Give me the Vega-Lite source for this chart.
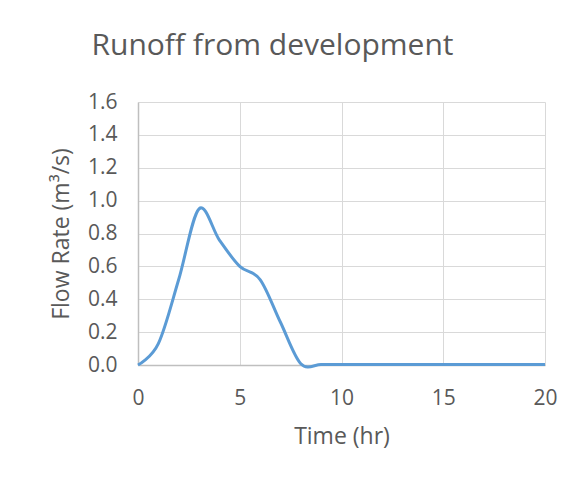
{
  "$schema": "https://vega.github.io/schema/vega-lite/v6.json",
  "autosize": "none",
  "width": 407,
  "height": 263,
  "padding": {"left": 138, "top": 102, "right": 33, "bottom": 115},
  "background": "white",
  "title": {
    "text": "Runoff from development",
    "font": "Open Sans",
    "fontSize": 30,
    "fontWeight": "normal",
    "color": "#595959",
    "anchor": "middle",
    "dx": -69,
    "offset": 30
  },
  "data": {
    "values": [
      {"t": 0, "q": 0.0},
      {"t": 1, "q": 0.13},
      {"t": 2, "q": 0.52},
      {"t": 3, "q": 0.95},
      {"t": 4, "q": 0.76},
      {"t": 5, "q": 0.60},
      {"t": 6, "q": 0.52},
      {"t": 7, "q": 0.26},
      {"t": 8, "q": 0.008},
      {"t": 9, "q": 0.003},
      {"t": 10, "q": 0.003},
      {"t": 11, "q": 0.003},
      {"t": 12, "q": 0.003},
      {"t": 13, "q": 0.003},
      {"t": 14, "q": 0.003},
      {"t": 15, "q": 0.003},
      {"t": 16, "q": 0.003},
      {"t": 17, "q": 0.003},
      {"t": 18, "q": 0.003},
      {"t": 19, "q": 0.003},
      {"t": 20, "q": 0.003}
    ]
  },
  "mark": {"type": "line", "interpolate": "cardinal", "color": "#5b9bd5", "strokeWidth": 3},
  "encoding": {
    "x": {
      "field": "t", "type": "quantitative", "title": "Time (hr)",
      "scale": {"domain": [0, 20], "nice": false},
      "axis": {"values": [0, 5, 10, 15, 20], "grid": true, "labelFlush": false}
    },
    "y": {
      "field": "q", "type": "quantitative", "title": "Flow Rate (m³/s)",
      "scale": {"domain": [0, 1.6], "nice": false},
      "axis": {"values": [0, 0.2, 0.4, 0.6, 0.8, 1.0, 1.2, 1.4, 1.6], "format": ".1f", "grid": true, "labelFlush": false}
    }
  },
  "config": {
    "view": {"stroke": null},
    "axis": {
      "labelFont": "Open Sans",
      "titleFont": "Open Sans",
      "labelFontSize": 21,
      "titleFontSize": 23,
      "titleFontWeight": "normal",
      "labelColor": "#595959",
      "titleColor": "#595959",
      "gridColor": "#d9d9d9",
      "gridWidth": 1,
      "domainColor": "#bfbfbf",
      "domainWidth": 1.5,
      "ticks": false
    },
    "axisX": {"labelPadding": 22, "titlePadding": 17},
    "axisY": {"labelPadding": 21, "titlePadding": 14}
  }
}
